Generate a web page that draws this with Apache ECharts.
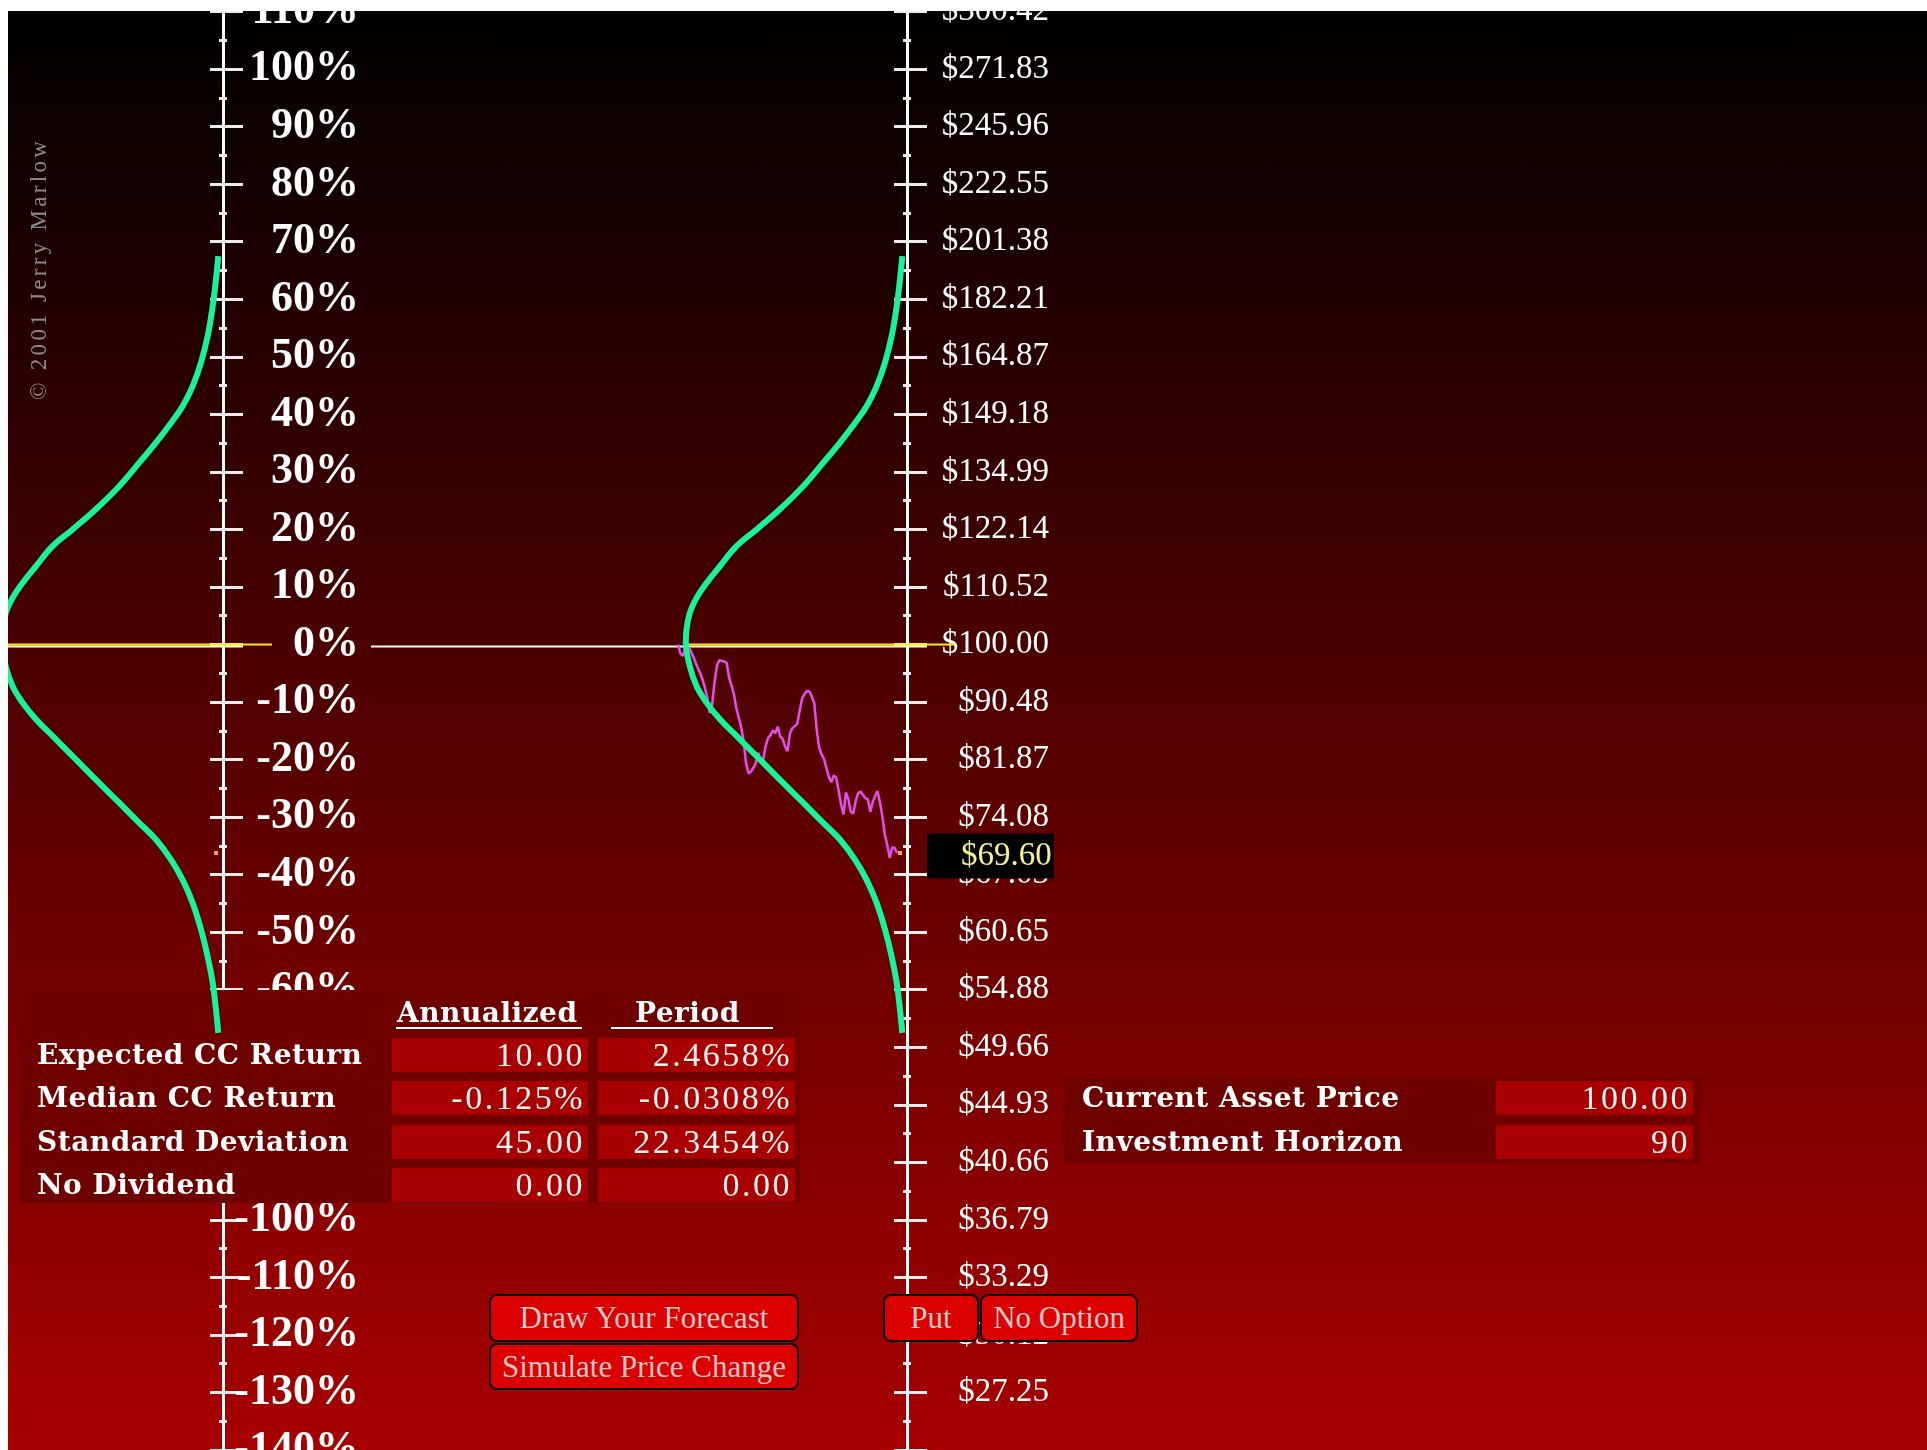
<!DOCTYPE html>
<html>
<head>
<meta charset="utf-8">
<title>Price forecast</title>
<script src="https://cdn.jsdelivr.net/npm/echarts@6.0.0/dist/echarts.min.js"></script>
<style>
  html, body { margin:0; padding:0; width:1927px; height:1450px; overflow:hidden; background:#fff; }
  #chart { position:absolute; left:0; top:0; width:1927px; height:1450px;
           background: linear-gradient(to bottom, #000 0px, #000 11px, #a80000 1450px); }
  .t { position:absolute; white-space:nowrap; font-family:'Liberation Serif', serif; }
  .lbl { font-family:'DejaVu Serif', serif; font-weight:bold; color:#fff; font-size:28px; letter-spacing:0.5px; line-height:34px; }
  .val { background:#a80000; color:#f4f4f4; font-size:34px; letter-spacing:2.5px; line-height:34px; height:34px; text-align:right; box-sizing:border-box; padding-right:3px; }
  .uline { position:absolute; height:2px; background:#fff; }
  .btn { position:absolute; box-sizing:border-box; background:#dc0000; border:2px solid #000; border-radius:8px; color:#cfc6c6; font-family:'Liberation Serif', serif; font-size:31px; text-align:center; white-space:nowrap; }
  .mask { position:absolute; background:#fff; z-index:20; }
  #copy { position:absolute; left:27px; top:400px; transform-origin:0 0; transform:rotate(-90deg); font-family:'Liberation Serif', serif; font-size:23px; line-height:23px; letter-spacing:3.3px; color:#8c8c8c; white-space:nowrap; }
</style>
</head>
<body>
<div id="chart"></div>
<div id="overlay"></div>
<div id="copy">© 2001 Jerry Marlow</div>
<div class="mask" style="left:0;top:0;width:1927px;height:11px"></div>
<div class="mask" style="left:0;top:0;width:8px;height:1450px"></div>
<script>
// ---------------- data ----------------
const pctMin = -140, pctMax = 110, pctStep = 10;
const priceTickLabels = ['$300.42','$271.83','$245.96','$222.55','$201.38','$182.21','$164.87','$149.18',
  '$134.99','$122.14','$110.52','$100.00','$90.48','$81.87','$74.08','$67.03','$60.65','$54.88','$49.66',
  '$44.93','$40.66','$36.79','$33.29','$30.12','$27.25'];

// distribution of the period continuously-compounded return (return %, density)
const curveReturnPct = [67.5, 63.4, 58.8, 53.6, 49.0, 44.9, 41.4, 38.5, 35.1, 31.6, 27.5, 23.5, 20.0, 17.1,
  13.6, 10.7, 8.1, 5.5, 2.6, 0.3, -3.8, -7.2, -10.1, -13.0, -15.9, -19.4, -23.5, -27.5, -31.0, -33.9,
  -37.4, -40.9, -44.9, -49.5, -54.2, -58.8, -63.4, -67.5];
const curveDensity = [0.038, 0.057, 0.083, 0.124, 0.178, 0.245, 0.326, 0.420, 0.541, 0.676, 0.838, 1.026,
  1.214, 1.376, 1.510, 1.618, 1.699, 1.753, 1.780, 1.785, 1.753, 1.699, 1.618, 1.510, 1.376, 1.214, 1.026,
  0.838, 0.676, 0.541, 0.420, 0.326, 0.245, 0.178, 0.124, 0.083, 0.057, 0.038];

// simulated daily price path, day 0 .. 90
const pathPrices = [100.00, 98.45, 98.05, 99.19, 99.60, 99.08, 98.16, 97.14, 96.14, 95.25,
  94.21, 92.85, 91.25, 88.80, 90.05, 93.61, 96.42, 97.31, 97.20, 97.09,
  96.86, 94.43, 93.07, 91.68, 89.47, 87.98, 86.52, 84.44, 81.27, 79.92,
  80.20, 80.71, 81.41, 82.84, 81.51, 81.84, 83.80, 84.98, 85.42, 86.12,
  85.72, 86.67, 85.22, 84.88, 83.76, 83.08, 85.67, 86.47, 86.77, 87.12,
  89.11, 91.04, 91.78, 92.26, 92.15, 91.36, 90.31, 86.22, 83.61, 82.60,
  81.98, 80.61, 79.41, 78.72, 79.64, 79.37, 77.59, 75.72, 74.42, 77.32,
  76.39, 74.81, 74.55, 76.12, 77.19, 77.46, 77.01, 76.56, 76.39, 74.76,
  76.03, 76.87, 77.50, 75.99, 74.08, 71.84, 70.56, 69.02, 70.27, 70.23,
  69.60];
const startPrice = 100.00;
const finalPrice = 69.60;

// parameter tables
const tableHeaders = ['Annualized', 'Period'];
const rowLabels = ['Expected CC Return', 'Median CC Return', 'Standard Deviation', 'No Dividend'];
const annualizedValues = ['10.00', '-0.125%', '45.00', '0.00'];
const periodValues = ['2.4658%', '-0.0308%', '22.3454%', '0.00'];
const assetLabels = ['Current Asset Price', 'Investment Horizon'];
const assetValues = ['100.00', '90'];
const buttonLabels = ['Draw Your Forecast', 'Simulate Price Change', 'Put', 'No Option'];

// ---------------- overlay (HTML text) ----------------
const ov = document.getElementById('overlay');
function el(cls, css, text) {
  const d = document.createElement('div');
  d.className = cls; d.style.cssText = css; if (text !== undefined) d.textContent = text;
  ov.appendChild(d); return d;
}
const rowTop0 = 1038, rowStep = 43.3;
el('t lbl', 'left:397px;top:996px;', tableHeaders[0]);
el('t lbl', 'left:635px;top:996px;', tableHeaders[1]);
el('uline', 'left:396px;top:1027px;width:186px;');
el('uline', 'left:611px;top:1027px;width:162px;');
rowLabels.forEach((s, i) => {
  const top = rowTop0 + i * rowStep;
  el('t lbl', `left:37px;top:${top}px;`, s);
  el('t val', `left:392px;top:${top}px;width:196px;`, annualizedValues[i]);
  el('t val', `left:598px;top:${top}px;width:197px;`, periodValues[i]);
});
assetLabels.forEach((s, i) => {
  const top = rowTop0 + (i + 1) * rowStep;
  el('t lbl', `left:1082px;top:${top}px;`, s);
  el('t val', `left:1496px;top:${top}px;width:197px;`, assetValues[i]);
});
const btnBoxes = [[489, 1294, 310, 48], [489, 1343, 310, 47], [883, 1294, 96, 48], [980, 1294, 158, 48]];
buttonLabels.forEach((s, i) => {
  const b = btnBoxes[i];
  el('btn', `left:${b[0]}px;top:${b[1]}px;width:${b[2]}px;height:${b[3]}px;line-height:${b[3] - 4}px;`, s);
});

// ---------------- chart ----------------
const toPct = p => 100 * Math.log(p / startPrice);
const curveData = curveReturnPct.map((r, i) => [curveDensity[i], r]);
const pathData = pathPrices.map((p, i) => [i, toPct(p)]);
const finalPct = toPct(finalPrice);

const gTop = 11.6;
const grids = [
  { left: 0,   width: 223, top: gTop, bottom: 0 },      // 0 left density curve
  { left: 684, width: 223, top: gTop, bottom: 0 },      // 1 right density curve
  { left: 678, width: 229, top: gTop, bottom: 0 },      // 2 price path
  { left: 8,   width: 235, top: gTop + 2, bottom: -2 }, // 3 white zero line left
  { left: 371, width: 556, top: gTop + 2, bottom: -2 }, // 4 white zero line right
  { left: 8,   width: 264, top: gTop, bottom: 0 },      // 5 yellow line left
  { left: 688, width: 267, top: gTop, bottom: 0 }       // 6 yellow line right
].map(g => Object.assign({ containLabel: false, outerBoundsMode: 'none' }, g));

const tickStyle = { color: '#ececec', width: 3 };
function yBase(gridIndex, extra) {
  return Object.assign({ type: 'value', gridIndex, min: pctMin, max: pctMax, interval: pctStep,
    position: 'right', splitLine: { show: false } }, extra);
}
function outerAxis(gridIndex, label) {
  return yBase(gridIndex, {
    axisLine: { show: true, onZero: false, lineStyle: { color: '#fff', width: 3 } },
    axisTick: { show: true, inside: false, length: 20, lineStyle: tickStyle },
    minorTick: { show: true, splitNumber: 2, length: 4, lineStyle: tickStyle },
    axisLabel: Object.assign({ show: true, inside: false, align: 'right', color: '#fff',
      fontFamily: 'Liberation Serif', showMinLabel: true, showMaxLabel: true }, label)
  });
}
function innerAxis(gridIndex) {
  return yBase(gridIndex, {
    axisLine: { show: false },
    axisTick: { show: true, inside: true, length: 13, lineStyle: tickStyle },
    minorTick: { show: true, splitNumber: 2, length: 4, lineStyle: tickStyle },
    axisLabel: { show: false }
  });
}
const yAxes = [
  outerAxis(0, { margin: 136, fontWeight: 'bold', fontSize: 44, formatter: v => v + '%' }),
  innerAxis(0),
  outerAxis(1, { margin: 142, fontWeight: 'normal', fontSize: 33,
    formatter: v => priceTickLabels[Math.round((pctMax - v) / pctStep)] || '' }),
  innerAxis(1),
  yBase(2, { show: false }), yBase(3, { show: false }), yBase(4, { show: false }),
  yBase(5, { show: false }), yBase(6, { show: false })
];
const xAxes = [
  { type: 'value', gridIndex: 0, min: 0, max: 1.8, inverse: true, show: false },
  { type: 'value', gridIndex: 1, min: 0, max: 1.8, inverse: true, show: false },
  { type: 'value', gridIndex: 2, min: 0, max: 94.1, show: false },
  { type: 'value', gridIndex: 3, min: 0, max: 1, show: false },
  { type: 'value', gridIndex: 4, min: 0, max: 1, show: false },
  { type: 'value', gridIndex: 5, min: 0, max: 1, show: false },
  { type: 'value', gridIndex: 6, min: 0, max: 1, show: false }
];
const flatLine = (xi, yi, color, width, z) => ({
  type: 'line', xAxisIndex: xi, yAxisIndex: yi, data: [[0, 0], [1, 0]], symbol: 'none', silent: true,
  lineStyle: { color, width }, z, clip: false
});
const curveSeries = (xi, yi) => ({
  type: 'line', xAxisIndex: xi, yAxisIndex: yi, data: curveData, symbol: 'none', smooth: 0.4,
  lineStyle: { color: '#18f29a', width: 6 }, z: 4, clip: false, silent: true
});
const marker = (xi, yi, withLabel) => ({
  type: 'scatter', xAxisIndex: xi, yAxisIndex: yi, data: [[0, finalPct]], symbol: 'rect', symbolSize: 4,
  symbolOffset: [-7, 0], itemStyle: { color: '#ffa040', opacity: 1 }, z: 6, clip: false, silent: true,
  label: withLabel ? { show: true, position: 'right', distance: 25, formatter: '$' + finalPrice.toFixed(2),
    backgroundColor: '#000000', color: '#f6f28e', fontFamily: 'Liberation Serif', fontSize: 33, opacity: 1,
    padding: [6, 2, 6, 34], offset: [0, 3] } : { show: false }
});

const chart = echarts.init(document.getElementById('chart'), null, { renderer: 'canvas' });
chart.setOption({
  animation: false,
  backgroundColor: 'transparent',
  grid: grids,
  xAxis: xAxes,
  yAxis: yAxes,
  graphic: [
    { type: 'rect', z: 1, silent: true, shape: { x: 20, y: 990, width: 780, height: 213 }, style: { fill: '#6e0000' } },
    { type: 'rect', z: 1, silent: true, shape: { x: 1064, y: 1078, width: 636, height: 85 }, style: { fill: '#6e0000' } }
  ],
  series: [
    flatLine(3, 5, '#ffffff', 2, 1),
    flatLine(4, 6, '#ffffff', 2, 1),
    flatLine(5, 7, '#ffee00', 2, 2),
    flatLine(6, 8, '#ffee00', 2, 2),
    { type: 'line', xAxisIndex: 2, yAxisIndex: 4, data: pathData, symbol: 'none', silent: true,
      lineStyle: { color: '#e44ef0', width: 2.5 }, z: 3, clip: false },
    curveSeries(0, 0),
    curveSeries(1, 2),
    marker(0, 0, false),
    marker(1, 2, true)
  ]
});
</script>
</body>
</html>
